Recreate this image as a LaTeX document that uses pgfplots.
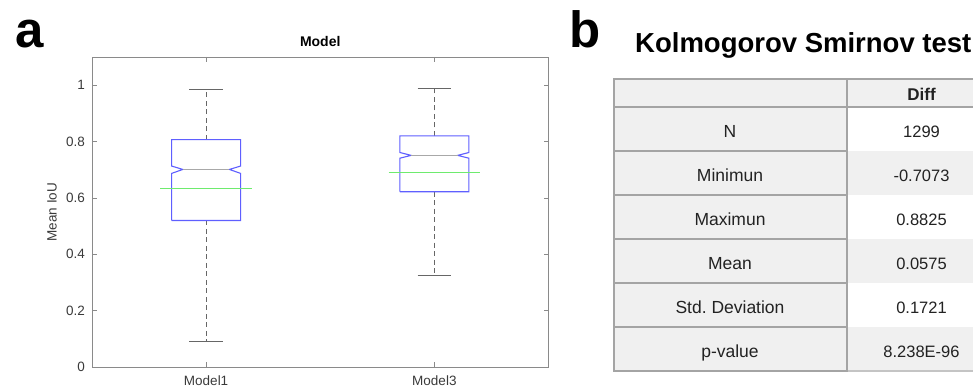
\documentclass[border=0pt]{standalone}
\usepackage{pgfplots}
\pgfplotsset{compat=1.18}
\usepackage{fontspec}
\setmainfont{Liberation Sans}
\frenchspacing
\definecolor{axgray}{HTML}{8A8A8A}
\definecolor{lblgray}{HTML}{3A3A3A}
\definecolor{boxblue}{RGB}{95,95,255}
\definecolor{meangreen}{RGB}{110,235,110}
\definecolor{whisk}{HTML}{666666}
\definecolor{medgray}{HTML}{A8A8A8}
\definecolor{cellgray}{HTML}{F0F0F0}
\definecolor{bordgray}{HTML}{A4A4A4}
\definecolor{bordlight}{HTML}{C4C4C4}
\definecolor{txt}{HTML}{222222}
\begin{document}
\begin{tikzpicture}[x=1pt,y=1pt]
\path[use as bounding box] (0,0) rectangle (973,387);
\clip (0,0) rectangle (973,387);
% panel letters
\node[anchor=base west, inner sep=0, font=\bfseries\fontsize{51}{55}\selectfont] at (15,339) {a};
\node[anchor=base west, inner sep=0, font=\bfseries\fontsize{51}{55}\selectfont] at (569.5,339) {b};
\begin{axis}[
  at={(92pt,20pt)}, anchor=south west, scale only axis,
  width=456.5pt, height=310pt,
  xmin=0.5, xmax=2.5, ymin=0, ymax=1.1,
  xtick={1,2}, xticklabels={Model1,Model3},
  ytick={0,0.2,0.4,0.6,0.8,1},
  yticklabels={0,0.2,0.4,0.6,0.8,1},
  tick align=inside, major tick length=5pt,
  axis line style={draw=axgray, line width=0.9pt},
  every tick/.style={draw=axgray, line width=0.8pt},
  tick label style={font=\fontsize{13.5}{15}\selectfont, text=lblgray},
  xticklabel style={anchor=base, yshift=-19pt, inner sep=0pt},
  yticklabel style={anchor=east, xshift=-7pt, inner sep=0pt},
  title={Model},
  title style={at={(axis description cs:0.5,1.016)}, anchor=base, inner sep=0pt, font=\bfseries\fontsize{14}{16}\selectfont, text=black},
  ylabel={Mean IoU},
  ylabel style={at={(axis description cs:-0.0767,0.5)}, anchor=south, inner sep=0pt, font=\fontsize{13.5}{15}\selectfont, text=lblgray},
  clip=false,
]
% whiskers (dashed)
\addplot[whisk, line width=0.9pt, dash pattern=on 5pt off 3.5pt] coordinates {(1,0.807) (1,0.986)};
\addplot[whisk, line width=0.9pt, dash pattern=on 5pt off 3.5pt] coordinates {(1,0.520) (1,0.092)};
\addplot[whisk, line width=0.9pt, dash pattern=on 5pt off 3.5pt] coordinates {(2,0.820) (2,0.987)};
\addplot[whisk, line width=0.9pt, dash pattern=on 5pt off 3.5pt] coordinates {(2,0.622) (2,0.326)};
% caps
\addplot[whisk, line width=1pt] coordinates {(0.927,0.986) (1.073,0.986)};
\addplot[whisk, line width=1pt] coordinates {(0.927,0.092) (1.073,0.092)};
\addplot[whisk, line width=1pt] coordinates {(1.927,0.987) (2.073,0.987)};
\addplot[whisk, line width=1pt] coordinates {(1.927,0.326) (2.073,0.326)};
% notched boxes
\addplot[boxblue, line width=1.1pt, fill=white] coordinates {(0.849,0.520) (1.151,0.520) (1.151,0.687) (1.102,0.701) (1.151,0.713) (1.151,0.807) (0.849,0.807) (0.849,0.713) (0.898,0.701) (0.849,0.687) (0.849,0.520)};
\addplot[boxblue, line width=1.1pt, fill=white] coordinates {(1.849,0.622) (2.151,0.622) (2.151,0.741) (2.102,0.751) (2.151,0.761) (2.151,0.820) (1.849,0.820) (1.849,0.761) (1.898,0.751) (1.849,0.741) (1.849,0.622)};
% medians
\addplot[medgray, line width=1pt] coordinates {(0.898,0.701) (1.102,0.701)};
\addplot[medgray, line width=1pt] coordinates {(1.898,0.751) (2.102,0.751)};
% means
\addplot[meangreen, line width=1.1pt] coordinates {(0.80,0.634) (1.20,0.634)};
\addplot[meangreen, line width=1.1pt] coordinates {(1.80,0.691) (2.20,0.691)};
\end{axis}
% ---------------- table (panel b) ----------------
\node[anchor=base west, inner sep=0, font=\bfseries\fontsize{27.5}{30}\selectfont] at (635,334) {Kolmogorov Smirnov test};
% fills
\fill[cellgray] (614,16) rectangle (846.7,308);
\fill[cellgray] (846.7,280) rectangle (1000,308);
\fill[white] (846.7,236) rectangle (1000,280);
\fill[cellgray] (846.7,192) rectangle (1000,236);
\fill[white] (846.7,148) rectangle (1000,192);
\fill[cellgray] (846.7,104) rectangle (1000,148);
\fill[white] (846.7,60) rectangle (1000,104);
\fill[cellgray] (846.7,16) rectangle (1000,60);
% borders across
\draw[bordgray, line width=1.8pt] (614,308) -- (1000,308);
\draw[bordgray, line width=1.5pt] (846.7,280) -- (1000,280);
\draw[bordlight, line width=1.5pt] (846.7,16) -- (1000,16);
% left column grid
\draw[bordgray, line width=1.8pt] (614,16) rectangle (846.7,308);
\foreach \yy in {280,236,192,148,104,60} {\draw[bordgray, line width=1.6pt] (614,\yy) -- (846.7,\yy);}
% texts
\node[anchor=base, inner sep=0, font=\bfseries\fontsize{17}{19}\selectfont, text=txt] at (921.5,286.5) {Diff};
\foreach \lab/\val/\yy in {N/1299/249.5, Minimun/-0.7073/205.5, Maximun/0.8825/161.5, Mean/0.0575/117.5, Std. Deviation/0.1721/73.5, p-value/8.238E-96/29.5} {
  \node[anchor=base, inner sep=0, font=\fontsize{17.5}{19}\selectfont, text=txt] at (730,\yy) {\lab};
  \node[anchor=base, inner sep=0, font=\fontsize{16.5}{19}\selectfont, text=txt] at (921.5,\yy) {\val};
}
\end{tikzpicture}
\end{document}
